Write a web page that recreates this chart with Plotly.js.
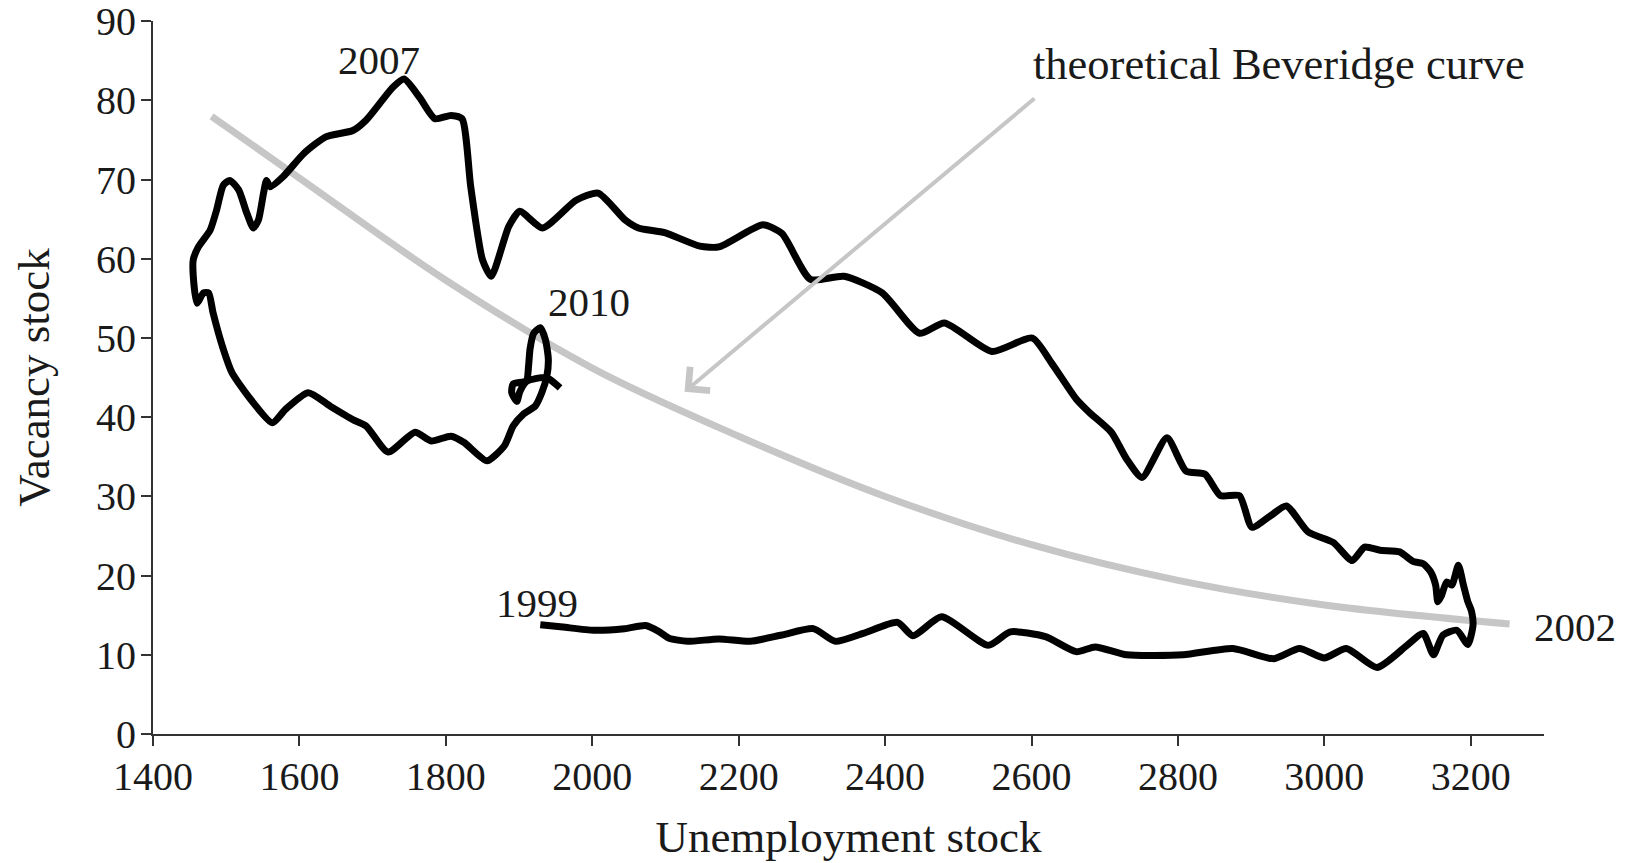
<!DOCTYPE html>
<html>
<head>
<meta charset="utf-8">
<script src="https://cdn.plot.ly/plotly-3.0.1.min.js"></script>
<style>
  html, body { margin: 0; padding: 0; background: #ffffff; }
  #chart { width: 1633px; height: 863px; }
</style>
</head>
<body>
<div id="chart"></div>
<script>
// Observed path of the (unemployment stock, vacancy stock) pair, 1999 -> 2002 -> 2007 -> 2010
const unemployment = [
  1929, 1960, 2002, 2044, 2073, 2090, 2105, 2130, 2173, 2216, 2259, 2302, 2332, 2370, 2417, 2438,
  2477, 2541, 2571, 2619, 2661, 2687, 2730, 2807, 2875, 2931, 2966, 3000, 3030, 3072, 3113, 3135,
  3149, 3162, 3181, 3196, 3203, 3201,
  3196, 3190, 3183, 3174, 3167, 3160, 3155, 3152, 3145, 3135, 3121, 3103, 3076, 3055, 3038, 3012,
  2978, 2948, 2927, 2901, 2884, 2858, 2837, 2811, 2785, 2751, 2730, 2709, 2679, 2661, 2627, 2601,
  2546, 2481, 2447, 2396, 2344, 2298, 2259, 2233, 2173, 2147, 2099, 2063, 2045, 2008, 1978, 1932,
  1901, 1886, 1862, 1850, 1834, 1822, 1807, 1785, 1764, 1743, 1728, 1691, 1673, 1636, 1606, 1578,
  1560, 1555, 1551, 1544, 1537, 1528, 1517, 1505, 1496, 1487, 1478, 1462, 1455, 1455, 1460, 1469,
  1476, 1482, 1496, 1508, 1533, 1563, 1581, 1612, 1642, 1673, 1691, 1721, 1758, 1780, 1807, 1825,
  1856, 1880, 1892, 1906, 1922, 1931, 1938, 1940, 1936, 1929, 1920, 1915, 1913, 1910, 1892, 1890,
  1897, 1901, 1910, 1924, 1938, 1956
];
const vacancies = [
  13.8, 13.5, 13.1, 13.3, 13.7, 13.0, 12.1, 11.7, 12.0, 11.7, 12.5, 13.3, 11.7, 12.7, 14.1, 12.4,
  14.8, 11.2, 12.9, 12.3, 10.4, 11.0, 10.0, 10.0, 10.8, 9.5, 10.8, 9.6, 10.8, 8.4, 11.2, 12.7,
  10.0, 12.5, 13.1, 11.3, 13.7, 15.5,
  16.7, 18.8, 21.3, 18.8, 19.2, 17.5, 16.7, 18.8, 20.5, 21.5, 21.8, 23.0, 23.2, 23.6, 21.9, 24.2,
  25.5, 28.8, 27.6, 26.1, 30.1, 30.1, 32.8, 33.2, 37.4, 32.4, 34.7, 38.1, 40.6, 42.3, 46.9, 50.0,
  48.3, 51.9, 50.6, 55.7, 57.8, 57.4, 63.2, 64.3, 61.5, 61.6, 63.3, 63.9, 64.9, 68.3, 67.4, 63.9,
  66.0, 64.1, 57.8, 59.9, 69.1, 77.7, 78.1, 77.7, 80.4, 82.7, 81.7, 77.5, 76.2, 75.4, 73.3, 70.4,
  69.1, 69.9, 68.3, 64.9, 63.9, 65.8, 68.7, 69.9, 69.3, 66.2, 63.6, 61.5, 59.9, 57.8, 54.4, 55.7,
  55.7, 53.2, 48.6, 45.6, 42.3, 39.3, 41.0, 43.1, 41.4, 39.7, 38.9, 35.6, 38.1, 37.0, 37.6, 36.8,
  34.5, 36.4, 38.9, 40.4, 41.4, 43.1, 45.2, 47.3, 49.8, 51.3, 50.6, 48.6, 46.5, 44.6, 44.2, 43.1,
  42.0, 43.2, 44.5, 44.9, 45.0, 43.7
];

// Theoretical Beveridge curve (light grey)
const beveridgeU = [1480, 1600, 1800, 2000, 2200, 2400, 2600, 2800, 3000, 3253];
const beveridgeV = [78.0, 70.2, 57.3, 46.2, 37.6, 30.0, 23.9, 19.4, 16.3, 13.9];

// Axis ticks
const xTicks = [1400, 1600, 1800, 2000, 2200, 2400, 2600, 2800, 3000, 3200];
const yTicks = [0, 10, 20, 30, 40, 50, 60, 70, 80, 90];

// Text
const xTitle = 'Unemployment stock';
const yTitle = 'Vacancy stock';
const curveLabel = 'theoretical Beveridge curve';
const yearLabels = ['2007', '2010', '1999', '2002'];

const FONT = 'Liberation Serif, Times New Roman, serif';
const TEXT = '#1a1a1a';
const AXIS = '#333333';
const GREY = '#c6c6c6';

const traces = [
  {
    x: beveridgeU, y: beveridgeV, type: 'scatter', mode: 'lines',
    line: { color: GREY, width: 7, shape: 'spline', smoothing: 1 },
    hoverinfo: 'skip', showlegend: false
  },
  {
    x: unemployment, y: vacancies, type: 'scatter', mode: 'lines',
    line: { color: '#000000', width: 7, shape: 'spline', smoothing: 0.6 },
    hoverinfo: 'skip', showlegend: false
  }
];

const layout = {
  width: 1633, height: 863,
  margin: { l: 153, r: 89, t: 21, b: 129, pad: 0 },
  paper_bgcolor: '#ffffff', plot_bgcolor: '#ffffff',
  font: { family: FONT, color: TEXT, size: 40 },
  showlegend: false,
  xaxis: {
    range: [1400, 3300], tickvals: xTicks, ticktext: xTicks.map(String),
    showline: true, linecolor: AXIS, linewidth: 2,
    ticks: 'outside', ticklen: 10, tickwidth: 2, tickcolor: AXIS,
    ticklabelstandoff: -4, ticklabeloverflow: 'allow',
    showgrid: false, zeroline: false,
    tickfont: { family: FONT, size: 40, color: TEXT },
    title: { text: xTitle, font: { family: FONT, size: 45, color: TEXT }, standoff: 22 }
  },
  yaxis: {
    range: [0, 90.03], tickvals: yTicks, ticktext: yTicks.map(String),
    showline: true, linecolor: AXIS, linewidth: 2,
    ticks: 'outside', ticklen: 10, tickwidth: 2, tickcolor: AXIS,
    ticklabelstandoff: -3, ticklabeloverflow: 'allow',
    showgrid: false, zeroline: false,
    tickfont: { family: FONT, size: 40, color: TEXT },
    title: { text: yTitle, font: { family: FONT, size: 45, color: TEXT }, standoff: 32 }
  },
  annotations: [
    { x: 1709, y: 85.1, xref: 'x', yref: 'y', text: yearLabels[0], showarrow: false,
      xanchor: 'center', yanchor: 'middle', font: { family: FONT, size: 41, color: TEXT } },
    { x: 1995, y: 54.6, xref: 'x', yref: 'y', text: yearLabels[1], showarrow: false,
      xanchor: 'center', yanchor: 'middle', font: { family: FONT, size: 41, color: TEXT } },
    { x: 1924, y: 16.6, xref: 'x', yref: 'y', text: yearLabels[2], showarrow: false,
      xanchor: 'center', yanchor: 'middle', font: { family: FONT, size: 41, color: TEXT } },
    { x: 1.0223, y: 13.5, xref: 'paper', yref: 'y', text: yearLabels[3], showarrow: false,
      xanchor: 'center', yanchor: 'middle', font: { family: FONT, size: 41, color: TEXT } },
    { x: 2599, y: 84.6, xref: 'x', yref: 'y', text: curveLabel, showarrow: false,
      xanchor: 'left', yanchor: 'middle', font: { family: FONT, size: 44.5, color: TEXT } },
    { x: 2126, y: 43.2, xref: 'x', yref: 'y', ax: 2606, ay: 80.4, axref: 'x', ayref: 'y',
      text: '', showarrow: true, arrowhead: 4, arrowsize: 1.5, arrowwidth: 4,
      arrowcolor: GREY, standoff: 0 }
  ]
};

Plotly.newPlot('chart', traces, layout, { staticPlot: true, displayModeBar: false });
</script>
</body>
</html>
